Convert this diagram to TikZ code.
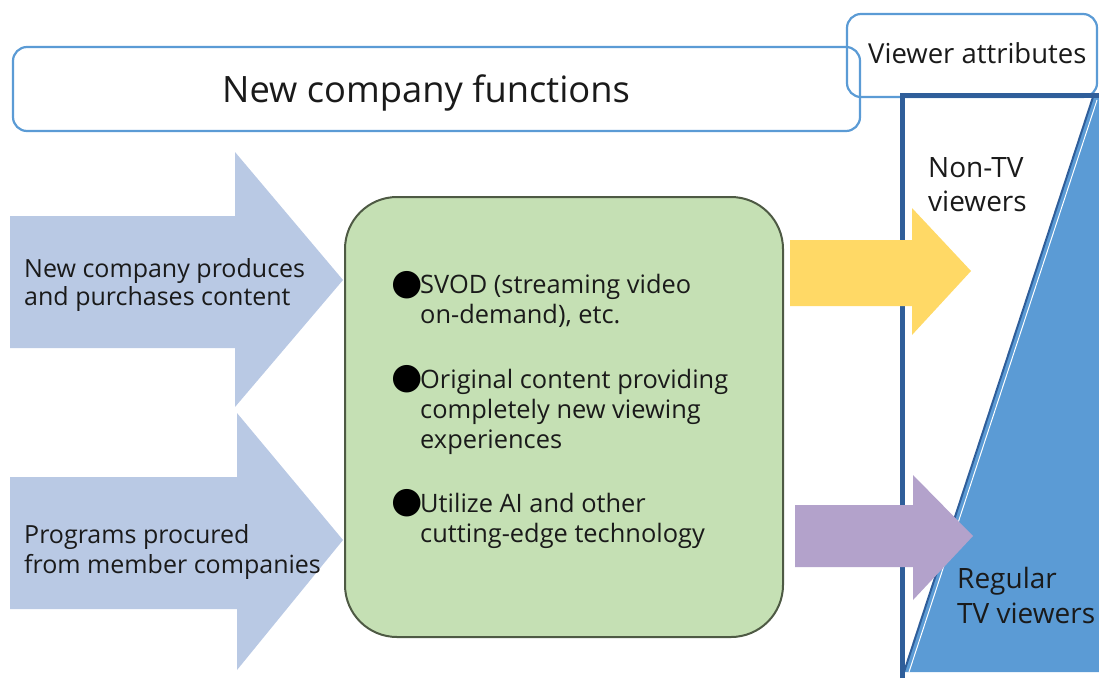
\documentclass[tikz,border=0pt]{standalone}
\usepackage{fontspec}
\setmainfont{Open Sans}
\newfontfamily\symfont{DejaVu Sans}
\definecolor{boxblue}{HTML}{5B9BD5}
\definecolor{framedark}{HTML}{2F5E9A}
\definecolor{fillblue}{HTML}{5B9BD5}
\definecolor{arrowblue}{HTML}{B9C9E4}
\definecolor{greenfill}{HTML}{C5E0B4}
\definecolor{greenline}{HTML}{4E5A44}
\definecolor{yellowfill}{HTML}{FFD966}
\definecolor{purplefill}{HTML}{B3A2CB}
\definecolor{textcol}{HTML}{1A1A1A}
\tikzset{
  hdrbox/.style={draw=boxblue, line width=2.2pt, rounded corners=14pt},
  lbl/.style={anchor=base west, inner sep=0pt, text=textcol, font=\fontsize{25}{30}\selectfont},
  glbl/.style={anchor=base west, inner sep=0pt, text=textcol, font=\fontsize{25.4}{30}\selectfont},
  rlbl/.style={anchor=base west, inner sep=0pt, text=textcol, font=\fontsize{28}{32}\selectfont},
  bigl/.style={anchor=base west, inner sep=0pt, text=textcol, font=\fontsize{36.3}{44}\selectfont},
  midl/.style={anchor=base west, inner sep=0pt, text=textcol, font=\fontsize{27.5}{32}\selectfont},
  bul/.style={anchor=center, inner sep=0pt, text=black, font=\symfont\fontsize{36}{40}\selectfont},
}
\begin{document}
\begin{tikzpicture}[x=1pt,y=-1pt]
\useasboundingbox (0,0) rectangle (1099,678);
% header boxes
\draw[hdrbox] (13,47) rectangle (860,131);
\draw[hdrbox] (847,14) rectangle (1097,97);
\node[bigl] (title) at (222,102) {New company functions};
\node[midl] (va) at (868,63) {Viewer attributes};
% viewer frame and triangle
\fill[fillblue] (1093,97) -- (904,672) -- (1099,672) -- (1099,97) -- cycle;
\draw[white, line width=1pt] (1097,100) -- (909,672);
\draw[framedark, line width=2pt] (1093,97) -- (904,672);
\draw[framedark, line width=5pt] (902,678) -- (902,95) -- (1099,95);
% left arrows
\fill[arrowblue] (10,216) -- (235,216) -- (235,152) -- (343,280) -- (235,407) -- (235,348) -- (10,348) -- cycle;
\fill[arrowblue] (10,477) -- (237,477) -- (237,413) -- (343,540) -- (237,670) -- (237,609) -- (10,609) -- cycle;
% green box
\draw[greenline, fill=greenfill, line width=2pt, rounded corners=52pt] (345,197) rectangle (783,637);
% right arrows
\fill[yellowfill] (790,240) -- (912,240) -- (912,208) -- (971,271) -- (912,335) -- (912,306) -- (790,306) -- cycle;
\fill[purplefill] (795,505) -- (913,505) -- (913,475) -- (973,536) -- (913,600) -- (913,567) -- (795,567) -- cycle;
% left labels
\node[lbl] (a1) at (24,277) {New company produces};
\node[lbl] (a2) at (24,305) {and purchases content};
\node[lbl] (b1) at (24,543) {Programs procured};
\node[lbl] (b2) at (24,573) {from member companies};
% green text
\node[bul] (g1b) at (407,285) {●};
\node[glbl] (g1) at (420,293) {SVOD (streaming video};
\node[glbl] (g2) at (420,323) {on-demand), etc.};
\node[bul] (g3b) at (407,379) {●};
\node[glbl] (g3) at (420,388) {Original content providing};
\node[glbl] (g4) at (420,418) {completely new viewing};
\node[glbl] (g5) at (420,448) {experiences};
\node[bul] (g6b) at (407,503) {●};
\node[glbl] (g6) at (420,512) {Utilize AI and other};
\node[glbl] (g7) at (420,542) {cutting-edge technology};
% right labels
\node[rlbl] (n1) at (928,177) {Non-TV};
\node[rlbl] (n2) at (928,211) {viewers};
\node[rlbl] (r1) at (957,588) {Regular};
\node[rlbl] (r2) at (957,623) {TV viewers};
\end{tikzpicture}
\end{document}
